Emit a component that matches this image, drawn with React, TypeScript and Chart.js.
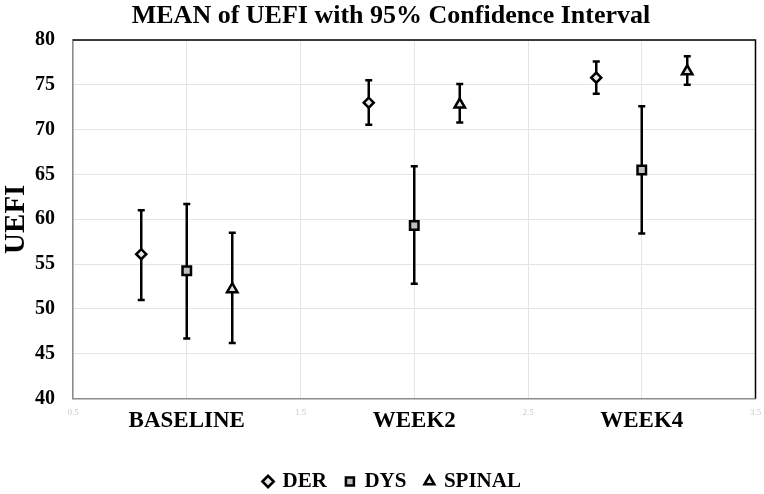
import React, { useEffect, useRef } from "react";
import { Chart, registerables } from "chart.js";

Chart.register(...registerables);

const titleText = "MEAN of UEFI with 95% Confidence Interval";
const categories = ["BASELINE", "WEEK2", "WEEK4"];
const seriesNames = ["DER", "DYS", "SPINAL"];
const seriesOffsets = [-0.2, 0, 0.2];

const derMean = [56.1, 73.0, 75.8];
const derLower = [51.0, 70.55, 74.0];
const derUpper = [61.0, 75.5, 77.6];

const dysMean = [54.25, 59.3, 65.5];
const dysLower = [46.7, 52.8, 58.4];
const dysUpper = [61.7, 65.9, 72.6];

const spinalMean = [52.2, 72.8, 76.5];
const spinalLower = [46.2, 70.8, 75.0];
const spinalUpper = [58.5, 75.1, 78.2];

const yTicks = [40, 45, 50, 55, 60, 65, 70, 75, 80];

const FONT = "'Liberation Serif', 'Times New Roman', serif";

const means = [derMean, dysMean, spinalMean];
const lowers = [derLower, dysLower, spinalLower];
const uppers = [derUpper, dysUpper, spinalUpper];
const styles = ["rectRot", "rect", "triangle"];
const fills = ["#e8e8e8", "#bfbfbf", "#e0e0e0"];
const radii = [5, 6, 6];

const errorBarPlugin = {
  id: "errorBars",
  afterLayout(chart: any) {
    if (chart.legend) {
      chart.legend.left += 14;
      chart.legend.right += 14;
    }
  },
  beforeDatasetsDraw(chart: any) {
    const ctx = chart.ctx;
    const xs = chart.scales.x;
    const ys = chart.scales.y;
    ctx.save();
    ctx.strokeStyle = "#000";
    ctx.lineWidth = 2.5;
    chart.data.datasets.forEach((ds: any) => {
      ds.data.forEach((p: any) => {
        const x = xs.getPixelForValue(p.x);
        const yl = ys.getPixelForValue(p.lo);
        const yh = ys.getPixelForValue(p.hi);
        ctx.beginPath();
        ctx.moveTo(x, yl);
        ctx.lineTo(x, yh);
        ctx.moveTo(x - 3.5, yl);
        ctx.lineTo(x + 3.5, yl);
        ctx.moveTo(x - 3.5, yh);
        ctx.lineTo(x + 3.5, yh);
        ctx.stroke();
      });
    });
    ctx.restore();
  },
  afterDraw(chart: any) {
    const { ctx, chartArea } = chart;
    ctx.save();
    ctx.strokeStyle = "#000";
    ctx.lineWidth = 1.5;
    ctx.beginPath();
    ctx.moveTo(chartArea.left, chartArea.top);
    ctx.lineTo(chartArea.right, chartArea.top);
    ctx.lineTo(chartArea.right, chartArea.bottom);
    ctx.stroke();
    ctx.fillStyle = "#000";
    ctx.font = `bold 26px ${FONT}`;
    ctx.textAlign = "center";
    ctx.textBaseline = "middle";
    ctx.fillText(titleText, 391, 16);
    ctx.restore();
  },
};

export default function App() {
  const ref = useRef<HTMLCanvasElement>(null);

  useEffect(() => {
    const datasets = seriesNames.map((name, s) => ({
      label: name,
      data: categories.map((_, i) => ({
        x: i + 1 + seriesOffsets[s],
        y: means[s][i],
        lo: lowers[s][i],
        hi: uppers[s][i],
      })),
      pointStyle: styles[s],
      pointRadius: radii[s],
      pointHoverRadius: radii[s],
      pointBorderWidth: 2.5,
      borderColor: "#000",
      backgroundColor: fills[s],
      showLine: false,
    }));

    const chart = new Chart(ref.current as HTMLCanvasElement, {
      type: "scatter",
      data: { datasets },
      plugins: [errorBarPlugin],
      options: {
        animation: false,
        responsive: false,
        layout: { padding: { top: 40, right: 7, left: 0, bottom: -8 } },
        plugins: {
          tooltip: { enabled: false },
          title: { display: false },
          legend: {
            position: "bottom",
            labels: {
              usePointStyle: true,
              boxWidth: 8,
              boxHeight: 8,
              color: "#000",
              padding: 19,
              font: { family: FONT, size: 21, weight: "bold" },
            },
          },
        },
        scales: {
          x: {
            type: "linear",
            min: 0.5,
            max: 3.5,
            afterFit: (scale: any) => {
              scale.paddingRight = 0;
              scale.paddingLeft = 0;
              scale.height = 53.5;
            },
            afterBuildTicks: (scale: any) => {
              const t = [];
              for (let v = 0.5; v <= 3.5001; v += 0.5) t.push({ value: Math.round(v * 10) / 10 });
              scale.ticks = t;
            },
            border: { color: "#8c8c8c", width: 1.5 },
            grid: { color: "#e4e4e4", lineWidth: 1, drawTicks: false },
            ticks: {
              autoSkip: false,
              maxRotation: 0,
              padding: 9,
              callback: (v: any) => {
                const n = Number(v);
                if (Number.isInteger(n)) return categories[n - 1] ?? "";
                return n.toFixed(1);
              },
              color: (c: any) =>
                Number.isInteger(c.tick?.value) ? "#000" : "#c8c8c8",
              font: (c: any) =>
                Number.isInteger(c.tick?.value)
                  ? { family: FONT, size: 23, weight: "bold" }
                  : { family: FONT, size: 9, weight: "normal" },
            },
          },
          y: {
            min: 40,
            max: 80,
            afterFit: (scale: any) => {
              scale.width = 73;
            },
            afterBuildTicks: (scale: any) => {
              scale.ticks = yTicks.map((v) => ({ value: v }));
            },
            border: { color: "#8c8c8c", width: 1.5 },
            grid: { color: "#e4e4e4", lineWidth: 1, drawTicks: false },
            ticks: {
              padding: 18,
              color: "#000",
              font: { family: FONT, size: 20, weight: "bold" },
            },
            title: {
              display: true,
              text: "UEFI",
              color: "#000",
              font: { family: FONT, size: 29, weight: "bold", lineHeight: 1 },
              padding: { top: 2, bottom: 2 },
            },
          },
        },
      } as any,
    });
    return () => chart.destroy();
  }, []);

  return (
    <div style={{ position: "fixed", left: 0, top: 0, width: 764, height: 494, background: "#fff" }}>
      <canvas ref={ref} width={764} height={494} style={{ width: 764, height: 494 }} />
    </div>
  );
}
